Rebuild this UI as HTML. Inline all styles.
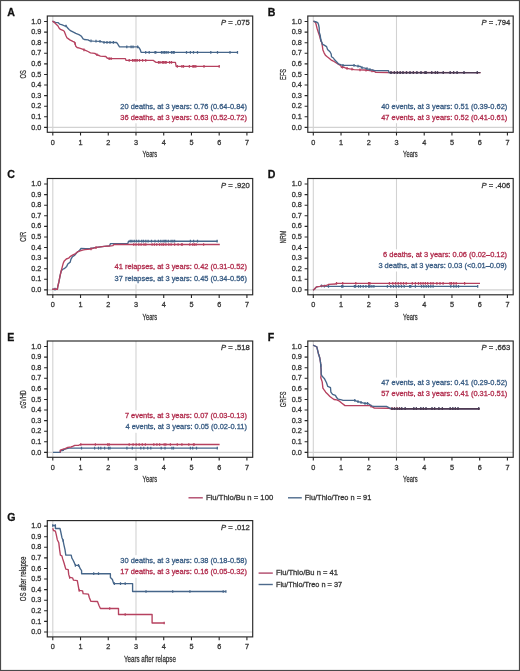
<!DOCTYPE html><html><head><meta charset="utf-8"><style>html,body{margin:0;padding:0;background:#fff;}svg{display:block;filter:blur(0.3px);} text{stroke-width:0.28px;}</style></head><body>
<svg width="520" height="671" viewBox="0 0 520 671" font-family='"Liberation Sans", sans-serif'>
<rect x="0" y="0" width="520" height="671" fill="#fff"/>
<rect x="0.5" y="0.5" width="519" height="670" fill="none" stroke="#4a4a4a" stroke-width="1.2"/>
<g stroke="#d2d2d2" stroke-width="1.1" fill="none">
<line x1="52.8" y1="16" x2="52.8" y2="132.3"/>
<line x1="135.99" y1="16" x2="135.99" y2="132.3"/>
<line x1="47.3" y1="127.4" x2="252.7" y2="127.4"/>
</g>
<rect x="47.3" y="16" width="205.4" height="116.3" fill="none" stroke="#262626" stroke-width="1.15"/>
<path d="M44.1 127.4H47.3M44.1 116.81H47.3M44.1 106.22H47.3M44.1 95.63H47.3M44.1 85.04H47.3M44.1 74.45H47.3M44.1 63.86H47.3M44.1 53.27H47.3M44.1 42.68H47.3M44.1 32.09H47.3M44.1 21.5H47.3M52.8 132.3V135.6M80.53 132.3V135.6M108.26 132.3V135.6M135.99 132.3V135.6M163.72 132.3V135.6M191.45 132.3V135.6M219.18 132.3V135.6M246.91 132.3V135.6" stroke="#262626" stroke-width="1.1" fill="none"/>
<text x="41.3" y="129.5" font-size="7.3" text-anchor="end" fill="#333333" stroke="#333333"  style="">0.0</text>
<text x="41.3" y="118.91" font-size="7.3" text-anchor="end" fill="#333333" stroke="#333333"  style="">0.1</text>
<text x="41.3" y="108.32" font-size="7.3" text-anchor="end" fill="#333333" stroke="#333333"  style="">0.2</text>
<text x="41.3" y="97.73" font-size="7.3" text-anchor="end" fill="#333333" stroke="#333333"  style="">0.3</text>
<text x="41.3" y="87.14" font-size="7.3" text-anchor="end" fill="#333333" stroke="#333333"  style="">0.4</text>
<text x="41.3" y="76.55" font-size="7.3" text-anchor="end" fill="#333333" stroke="#333333"  style="">0.5</text>
<text x="41.3" y="65.96" font-size="7.3" text-anchor="end" fill="#333333" stroke="#333333"  style="">0.6</text>
<text x="41.3" y="55.37" font-size="7.3" text-anchor="end" fill="#333333" stroke="#333333"  style="">0.7</text>
<text x="41.3" y="44.78" font-size="7.3" text-anchor="end" fill="#333333" stroke="#333333"  style="">0.8</text>
<text x="41.3" y="34.19" font-size="7.3" text-anchor="end" fill="#333333" stroke="#333333"  style="">0.9</text>
<text x="41.3" y="23.6" font-size="7.3" text-anchor="end" fill="#333333" stroke="#333333"  style="">1.0</text>
<text x="52.8" y="144.8" font-size="7.3" text-anchor="middle" fill="#333333" stroke="#333333"  style="">0</text>
<text x="80.53" y="144.8" font-size="7.3" text-anchor="middle" fill="#333333" stroke="#333333"  style="">1</text>
<text x="108.26" y="144.8" font-size="7.3" text-anchor="middle" fill="#333333" stroke="#333333"  style="">2</text>
<text x="135.99" y="144.8" font-size="7.3" text-anchor="middle" fill="#333333" stroke="#333333"  style="">3</text>
<text x="163.72" y="144.8" font-size="7.3" text-anchor="middle" fill="#333333" stroke="#333333"  style="">4</text>
<text x="191.45" y="144.8" font-size="7.3" text-anchor="middle" fill="#333333" stroke="#333333"  style="">5</text>
<text x="219.18" y="144.8" font-size="7.3" text-anchor="middle" fill="#333333" stroke="#333333"  style="">6</text>
<text x="246.91" y="144.8" font-size="7.3" text-anchor="middle" fill="#333333" stroke="#333333"  style="">7</text>
<text x="149.9" y="157.4" font-size="9.5" text-anchor="middle" fill="#333333" stroke="#333333" textLength="14.6" lengthAdjust="spacingAndGlyphs"  style="">Years</text>
<text transform="translate(25.9 74.4) rotate(-90)" x="0" y="0" font-size="9.5" text-anchor="middle" fill="#333333" stroke="#333333" textLength="8.3" lengthAdjust="spacingAndGlyphs">OS</text>
<text x="7.2" y="15.9" font-size="10.6" font-weight="bold" fill="#111" stroke="#111">A</text>
<text x="249.8" y="25.1" font-size="7.7" text-anchor="end" fill="#333333" stroke="#333333"><tspan font-style="italic">P</tspan> = .075</text>
<path d="M52.50 21.10L55.50 22.30L58.00 22.60L59.80 24.20L62.30 24.80L64.80 26.00L66.30 26.00L67.20 27.50L69.10 29.40L70.90 30.90L73.40 32.20L75.80 33.40L78.90 34.60L80.80 35.80L81.80 36.80L83.10 38.90L84.30 39.50L88.00 39.80L89.80 40.80L93.50 41.10L100.30 41.40L104.00 42.30L116.50 42.50L117.60 43.70L118.40 45.20L119.50 46.80L138.00 46.80L139.20 47.90L140.30 49.80L141.10 52.40L237.80 52.40" fill="none" stroke="#46668a" stroke-width="1.35" stroke-linejoin="round"/>
<path d="M66.00 24.65V27.35M91.00 39.55V42.25M96.00 39.86V42.56M100.00 40.04V42.74M104.00 40.95V43.65M107.00 41.00V43.70M110.00 41.05V43.75M113.40 41.10V43.80M126.80 45.45V48.15M131.10 45.45V48.15M133.00 45.45V48.15M137.60 45.45V48.15M145.70 51.05V53.75M149.20 51.05V53.75M155.00 51.05V53.75M155.80 51.05V53.75M161.50 51.05V53.75M163.10 51.05V53.75M164.60 51.05V53.75M166.20 51.05V53.75M168.10 51.05V53.75M171.50 51.05V53.75M173.10 51.05V53.75M174.20 51.05V53.75M186.50 51.05V53.75M190.40 51.05V53.75M193.50 51.05V53.75M197.50 51.05V53.75M210.80 51.05V53.75M217.50 51.05V53.75M230.00 51.05V53.75M237.50 51.05V53.75" fill="none" stroke="#46668a" stroke-width="1.25"/>
<path d="M52.50 21.10L54.90 22.90L56.20 24.20L58.00 26.00L59.20 28.20L60.50 29.40L62.90 30.30L64.20 31.20L65.10 33.40L66.00 35.80L66.90 37.70L68.50 38.90L70.30 40.20L72.80 41.40L74.30 42.00L75.20 43.80L75.80 46.30L77.10 47.50L79.50 48.20L82.50 49.10L83.70 49.70L85.50 50.30L88.00 51.50L90.50 52.80L94.80 53.40L96.60 54.60L99.10 55.50L100.30 56.20L105.80 56.50L107.10 58.00L108.90 58.60L125.30 58.60L126.10 60.40L153.50 60.40L154.60 61.40L155.80 62.30L175.40 62.30L176.20 66.30L219.50 66.30" fill="none" stroke="#b6415f" stroke-width="1.35" stroke-linejoin="round"/>
<path d="M75.00 42.05V44.75M84.00 48.45V51.15M97.00 53.39V56.09M109.20 57.25V59.95M111.10 57.25V59.95M129.20 59.05V61.75M132.60 59.05V61.75M134.20 59.05V61.75M135.70 59.05V61.75M137.20 59.05V61.75M139.50 59.05V61.75M142.60 59.05V61.75M145.70 59.05V61.75M158.50 60.95V63.65M160.00 60.95V63.65M162.30 60.95V63.65M163.50 60.95V63.65M165.00 60.95V63.65M166.20 60.95V63.65M169.60 60.95V63.65M171.50 60.95V63.65M177.30 64.95V67.65M181.90 64.95V67.65M183.50 64.95V67.65M189.40 64.95V67.65M192.90 64.95V67.65M194.20 64.95V67.65M195.80 64.95V67.65M204.00 64.95V67.65M219.20 64.95V67.65" fill="none" stroke="#b6415f" stroke-width="1.25"/>
<rect x="114.9" y="101.2" width="131" height="22.1" fill="#fff"/>
<text x="246.9" y="108.6" font-size="7.45" text-anchor="end" fill="#365a82" stroke="#365a82"  style="">20 deaths, at 3 years: 0.76 (0.64-0.84)</text>
<text x="246.9" y="119.7" font-size="7.45" text-anchor="end" fill="#b02a4b" stroke="#b02a4b"  style="">36 deaths, at 3 years: 0.63 (0.52-0.72)</text>
<g stroke="#d2d2d2" stroke-width="1.1" fill="none">
<line x1="313.3" y1="16" x2="313.3" y2="132.3"/>
<line x1="396.49" y1="16" x2="396.49" y2="132.3"/>
<line x1="307.8" y1="127.4" x2="513.2" y2="127.4"/>
</g>
<rect x="307.8" y="16" width="205.4" height="116.3" fill="none" stroke="#262626" stroke-width="1.15"/>
<path d="M304.6 127.4H307.8M304.6 116.81H307.8M304.6 106.22H307.8M304.6 95.63H307.8M304.6 85.04H307.8M304.6 74.45H307.8M304.6 63.86H307.8M304.6 53.27H307.8M304.6 42.68H307.8M304.6 32.09H307.8M304.6 21.5H307.8M313.3 132.3V135.6M341.03 132.3V135.6M368.76 132.3V135.6M396.49 132.3V135.6M424.22 132.3V135.6M451.95 132.3V135.6M479.68 132.3V135.6M507.41 132.3V135.6" stroke="#262626" stroke-width="1.1" fill="none"/>
<text x="301.8" y="129.5" font-size="7.3" text-anchor="end" fill="#333333" stroke="#333333"  style="">0.0</text>
<text x="301.8" y="118.91" font-size="7.3" text-anchor="end" fill="#333333" stroke="#333333"  style="">0.1</text>
<text x="301.8" y="108.32" font-size="7.3" text-anchor="end" fill="#333333" stroke="#333333"  style="">0.2</text>
<text x="301.8" y="97.73" font-size="7.3" text-anchor="end" fill="#333333" stroke="#333333"  style="">0.3</text>
<text x="301.8" y="87.14" font-size="7.3" text-anchor="end" fill="#333333" stroke="#333333"  style="">0.4</text>
<text x="301.8" y="76.55" font-size="7.3" text-anchor="end" fill="#333333" stroke="#333333"  style="">0.5</text>
<text x="301.8" y="65.96" font-size="7.3" text-anchor="end" fill="#333333" stroke="#333333"  style="">0.6</text>
<text x="301.8" y="55.37" font-size="7.3" text-anchor="end" fill="#333333" stroke="#333333"  style="">0.7</text>
<text x="301.8" y="44.78" font-size="7.3" text-anchor="end" fill="#333333" stroke="#333333"  style="">0.8</text>
<text x="301.8" y="34.19" font-size="7.3" text-anchor="end" fill="#333333" stroke="#333333"  style="">0.9</text>
<text x="301.8" y="23.6" font-size="7.3" text-anchor="end" fill="#333333" stroke="#333333"  style="">1.0</text>
<text x="313.3" y="144.8" font-size="7.3" text-anchor="middle" fill="#333333" stroke="#333333"  style="">0</text>
<text x="341.03" y="144.8" font-size="7.3" text-anchor="middle" fill="#333333" stroke="#333333"  style="">1</text>
<text x="368.76" y="144.8" font-size="7.3" text-anchor="middle" fill="#333333" stroke="#333333"  style="">2</text>
<text x="396.49" y="144.8" font-size="7.3" text-anchor="middle" fill="#333333" stroke="#333333"  style="">3</text>
<text x="424.22" y="144.8" font-size="7.3" text-anchor="middle" fill="#333333" stroke="#333333"  style="">4</text>
<text x="451.95" y="144.8" font-size="7.3" text-anchor="middle" fill="#333333" stroke="#333333"  style="">5</text>
<text x="479.68" y="144.8" font-size="7.3" text-anchor="middle" fill="#333333" stroke="#333333"  style="">6</text>
<text x="507.41" y="144.8" font-size="7.3" text-anchor="middle" fill="#333333" stroke="#333333"  style="">7</text>
<text x="410.4" y="157.4" font-size="9.5" text-anchor="middle" fill="#333333" stroke="#333333" textLength="14.6" lengthAdjust="spacingAndGlyphs"  style="">Years</text>
<text transform="translate(286.4 74.4) rotate(-90)" x="0" y="0" font-size="9.5" text-anchor="middle" fill="#333333" stroke="#333333" textLength="11" lengthAdjust="spacingAndGlyphs">EFS</text>
<text x="267.7" y="15.9" font-size="10.6" font-weight="bold" fill="#111" stroke="#111">B</text>
<text x="510.3" y="25.1" font-size="7.7" text-anchor="end" fill="#333333" stroke="#333333"><tspan font-style="italic">P</tspan> = .794</text>
<path d="M313.40 21.10L315.50 22.30L316.20 24.80L317.10 28.50L318.30 32.20L319.50 35.80L320.50 39.50L321.70 42.60L322.30 45.70L322.90 50.00L324.20 53.10L325.40 55.20L327.20 56.80L329.10 58.30L330.90 59.80L332.80 60.80L335.20 62.30L338.30 64.20L340.80 65.70L341.40 67.20L343.80 67.20L345.70 68.20L349.60 68.80L354.20 69.60L364.20 70.00L368.10 70.40L371.20 70.80L374.60 71.50L375.80 72.40L388.00 72.50L480.50 72.60" fill="none" stroke="#b6415f" stroke-width="1.35" stroke-linejoin="round"/>
<path d="M342.50 65.85V68.55M347.00 67.05V69.75M352.00 67.87V70.57M360.00 68.48V71.18M366.00 68.83V71.53M372.00 69.61V72.31" fill="none" stroke="#b6415f" stroke-width="1.25"/>
<path d="M313.40 21.10L316.20 22.00L317.70 22.60L318.60 24.80L319.20 27.80L319.20 32.20L320.20 35.20L320.80 40.20L322.00 42.60L322.30 44.20L324.20 45.10L326.60 46.60L327.50 49.40L330.00 51.80L331.20 54.00L331.50 56.80L333.40 58.00L334.60 59.80L336.50 61.70L338.30 63.80L341.40 64.80L343.20 65.30L354.20 65.30L356.50 65.80L360.40 66.50L361.90 67.70L365.00 68.10L367.30 68.80L370.40 69.60L372.70 70.00L374.60 70.60L388.50 70.60L389.00 72.60L478.00 72.60" fill="none" stroke="#46668a" stroke-width="1.35" stroke-linejoin="round"/>
<path d="M320.80 38.85V41.55M343.00 63.89V66.59M354.00 63.95V66.65M358.00 64.72V67.42M362.00 66.36V69.06M367.00 67.36V70.06M370.00 68.15V70.85M391.00 71.25V73.95M394.40 71.25V73.95M397.30 71.25V73.95M400.20 71.25V73.95M403.00 71.25V73.95M406.50 71.25V73.95M410.00 71.25V73.95M413.40 71.25V73.95M416.90 71.25V73.95M421.00 71.25V73.95M425.00 71.25V73.95M426.10 71.25V73.95M431.70 71.25V73.95M435.40 71.25V73.95M437.50 71.25V73.95M443.30 71.25V73.95M450.20 71.25V73.95M453.60 71.25V73.95M457.10 71.25V73.95M464.00 71.25V73.95M477.30 71.25V73.95" fill="none" stroke="#46668a" stroke-width="1.25"/>
<path d="M389.20 72.60L480.50 72.60" fill="none" stroke="#4d3a52" stroke-width="1.35" stroke-linejoin="round"/>
<path d="M391.00 71.25V73.95M394.40 71.25V73.95M397.30 71.25V73.95M400.20 71.25V73.95M403.00 71.25V73.95M406.50 71.25V73.95M410.00 71.25V73.95M413.40 71.25V73.95M416.90 71.25V73.95M421.00 71.25V73.95M425.00 71.25V73.95M426.10 71.25V73.95M431.70 71.25V73.95M435.40 71.25V73.95M437.50 71.25V73.95M443.30 71.25V73.95M450.20 71.25V73.95M453.60 71.25V73.95M457.10 71.25V73.95M464.00 71.25V73.95M477.30 71.25V73.95" fill="none" stroke="#4d3a52" stroke-width="1.25"/>
<rect x="375.3" y="101.2" width="131" height="22" fill="#fff"/>
<text x="507.3" y="108.6" font-size="7.45" text-anchor="end" fill="#365a82" stroke="#365a82"  style="">40 events, at 3 years: 0.51 (0.39-0.62)</text>
<text x="507.3" y="119.6" font-size="7.45" text-anchor="end" fill="#b02a4b" stroke="#b02a4b"  style="">47 events, at 3 years: 0.52 (0.41-0.61)</text>
<g stroke="#d2d2d2" stroke-width="1.1" fill="none">
<line x1="52.8" y1="178.5" x2="52.8" y2="294.8"/>
<line x1="135.99" y1="178.5" x2="135.99" y2="294.8"/>
<line x1="47.3" y1="289.9" x2="252.7" y2="289.9"/>
</g>
<rect x="47.3" y="178.5" width="205.4" height="116.3" fill="none" stroke="#262626" stroke-width="1.15"/>
<path d="M44.1 289.9H47.3M44.1 279.31H47.3M44.1 268.72H47.3M44.1 258.13H47.3M44.1 247.54H47.3M44.1 236.95H47.3M44.1 226.36H47.3M44.1 215.77H47.3M44.1 205.18H47.3M44.1 194.59H47.3M44.1 184H47.3M52.8 294.8V298.1M80.53 294.8V298.1M108.26 294.8V298.1M135.99 294.8V298.1M163.72 294.8V298.1M191.45 294.8V298.1M219.18 294.8V298.1M246.91 294.8V298.1" stroke="#262626" stroke-width="1.1" fill="none"/>
<text x="41.3" y="292" font-size="7.3" text-anchor="end" fill="#333333" stroke="#333333"  style="">0.0</text>
<text x="41.3" y="281.41" font-size="7.3" text-anchor="end" fill="#333333" stroke="#333333"  style="">0.1</text>
<text x="41.3" y="270.82" font-size="7.3" text-anchor="end" fill="#333333" stroke="#333333"  style="">0.2</text>
<text x="41.3" y="260.23" font-size="7.3" text-anchor="end" fill="#333333" stroke="#333333"  style="">0.3</text>
<text x="41.3" y="249.64" font-size="7.3" text-anchor="end" fill="#333333" stroke="#333333"  style="">0.4</text>
<text x="41.3" y="239.05" font-size="7.3" text-anchor="end" fill="#333333" stroke="#333333"  style="">0.5</text>
<text x="41.3" y="228.46" font-size="7.3" text-anchor="end" fill="#333333" stroke="#333333"  style="">0.6</text>
<text x="41.3" y="217.87" font-size="7.3" text-anchor="end" fill="#333333" stroke="#333333"  style="">0.7</text>
<text x="41.3" y="207.28" font-size="7.3" text-anchor="end" fill="#333333" stroke="#333333"  style="">0.8</text>
<text x="41.3" y="196.69" font-size="7.3" text-anchor="end" fill="#333333" stroke="#333333"  style="">0.9</text>
<text x="41.3" y="186.1" font-size="7.3" text-anchor="end" fill="#333333" stroke="#333333"  style="">1.0</text>
<text x="52.8" y="307.3" font-size="7.3" text-anchor="middle" fill="#333333" stroke="#333333"  style="">0</text>
<text x="80.53" y="307.3" font-size="7.3" text-anchor="middle" fill="#333333" stroke="#333333"  style="">1</text>
<text x="108.26" y="307.3" font-size="7.3" text-anchor="middle" fill="#333333" stroke="#333333"  style="">2</text>
<text x="135.99" y="307.3" font-size="7.3" text-anchor="middle" fill="#333333" stroke="#333333"  style="">3</text>
<text x="163.72" y="307.3" font-size="7.3" text-anchor="middle" fill="#333333" stroke="#333333"  style="">4</text>
<text x="191.45" y="307.3" font-size="7.3" text-anchor="middle" fill="#333333" stroke="#333333"  style="">5</text>
<text x="219.18" y="307.3" font-size="7.3" text-anchor="middle" fill="#333333" stroke="#333333"  style="">6</text>
<text x="246.91" y="307.3" font-size="7.3" text-anchor="middle" fill="#333333" stroke="#333333"  style="">7</text>
<text x="149.9" y="319.9" font-size="9.5" text-anchor="middle" fill="#333333" stroke="#333333" textLength="14.6" lengthAdjust="spacingAndGlyphs"  style="">Years</text>
<text transform="translate(25.9 236.9) rotate(-90)" x="0" y="0" font-size="9.5" text-anchor="middle" fill="#333333" stroke="#333333" textLength="9.9" lengthAdjust="spacingAndGlyphs">CIR</text>
<text x="7.2" y="178.4" font-size="10.6" font-weight="bold" fill="#111" stroke="#111">C</text>
<text x="249.8" y="187.6" font-size="7.7" text-anchor="end" fill="#333333" stroke="#333333"><tspan font-style="italic">P</tspan> = .920</text>
<path d="M52.30 289.20L57.40 289.20L57.80 286.50L58.90 281.90L60.10 275.70L61.20 271.00L62.40 269.50L64.70 268.30L66.70 266.40L67.80 264.00L70.20 262.10L70.90 259.40L72.50 256.70L74.80 255.10L76.70 252.80L79.10 250.90L81.00 248.50L85.70 248.70L90.30 248.40L96.50 247.40L104.20 246.40L109.50 245.80L110.50 243.60L127.80 243.60L128.50 241.20L217.50 241.20" fill="none" stroke="#46668a" stroke-width="1.35" stroke-linejoin="round"/>
<path d="M55.00 287.85V290.55M130.20 239.85V242.55M131.90 239.85V242.55M134.20 239.85V242.55M136.50 239.85V242.55M138.80 239.85V242.55M141.70 239.85V242.55M143.50 239.85V242.55M145.80 239.85V242.55M148.10 239.85V242.55M151.50 239.85V242.55M155.00 239.85V242.55M158.40 239.85V242.55M160.80 239.85V242.55M163.10 239.85V242.55M164.80 239.85V242.55M166.00 239.85V242.55M168.30 239.85V242.55M171.10 239.85V242.55M172.90 239.85V242.55M174.60 239.85V242.55M190.40 239.85V242.55M193.60 239.85V242.55M197.50 239.85V242.55M217.10 239.85V242.55" fill="none" stroke="#46668a" stroke-width="1.25"/>
<path d="M52.30 289.20L57.40 289.20L57.80 286.50L58.90 281.90L60.10 275.70L61.20 271.00L62.40 266.40L63.20 263.30L64.30 260.90L66.30 259.00L68.60 258.20L70.50 256.30L72.50 255.10L75.60 253.60L77.90 251.60L80.20 250.90L82.60 250.10L84.90 249.70L90.30 249.10L96.50 247.40L104.20 246.40L109.50 246.00L112.90 245.70L113.80 244.50L219.80 244.50" fill="none" stroke="#b6415f" stroke-width="1.35" stroke-linejoin="round"/>
<path d="M91.00 247.56V250.26M96.00 246.19V248.89M133.70 243.15V245.85M136.00 243.15V245.85M138.80 243.15V245.85M141.10 243.15V245.85M144.00 243.15V245.85M145.80 243.15V245.85M152.10 243.15V245.85M154.40 243.15V245.85M156.70 243.15V245.85M159.60 243.15V245.85M161.90 243.15V245.85M163.60 243.15V245.85M165.90 243.15V245.85M168.80 243.15V245.85M171.10 243.15V245.85M174.60 243.15V245.85M178.10 243.15V245.85M181.50 243.15V245.85M182.30 243.15V245.85M189.80 243.15V245.85M192.70 243.15V245.85M194.40 243.15V245.85M196.10 243.15V245.85M203.60 243.15V245.85" fill="none" stroke="#b6415f" stroke-width="1.25"/>
<rect x="114.9" y="261.6" width="131" height="22.8" fill="#fff"/>
<text x="246.9" y="269" font-size="7.45" text-anchor="end" fill="#b02a4b" stroke="#b02a4b"  style="">41 relapses, at 3 years: 0.42 (0.31-0.52)</text>
<text x="246.9" y="280.8" font-size="7.45" text-anchor="end" fill="#365a82" stroke="#365a82"  style="">37 relapses, at 3 years: 0.45 (0.34-0.56)</text>
<g stroke="#d2d2d2" stroke-width="1.1" fill="none">
<line x1="313.3" y1="178.5" x2="313.3" y2="294.8"/>
<line x1="396.49" y1="178.5" x2="396.49" y2="294.8"/>
<line x1="307.8" y1="289.9" x2="513.2" y2="289.9"/>
</g>
<rect x="307.8" y="178.5" width="205.4" height="116.3" fill="none" stroke="#262626" stroke-width="1.15"/>
<path d="M304.6 289.9H307.8M304.6 279.31H307.8M304.6 268.72H307.8M304.6 258.13H307.8M304.6 247.54H307.8M304.6 236.95H307.8M304.6 226.36H307.8M304.6 215.77H307.8M304.6 205.18H307.8M304.6 194.59H307.8M304.6 184H307.8M313.3 294.8V298.1M341.03 294.8V298.1M368.76 294.8V298.1M396.49 294.8V298.1M424.22 294.8V298.1M451.95 294.8V298.1M479.68 294.8V298.1M507.41 294.8V298.1" stroke="#262626" stroke-width="1.1" fill="none"/>
<text x="301.8" y="292" font-size="7.3" text-anchor="end" fill="#333333" stroke="#333333"  style="">0.0</text>
<text x="301.8" y="281.41" font-size="7.3" text-anchor="end" fill="#333333" stroke="#333333"  style="">0.1</text>
<text x="301.8" y="270.82" font-size="7.3" text-anchor="end" fill="#333333" stroke="#333333"  style="">0.2</text>
<text x="301.8" y="260.23" font-size="7.3" text-anchor="end" fill="#333333" stroke="#333333"  style="">0.3</text>
<text x="301.8" y="249.64" font-size="7.3" text-anchor="end" fill="#333333" stroke="#333333"  style="">0.4</text>
<text x="301.8" y="239.05" font-size="7.3" text-anchor="end" fill="#333333" stroke="#333333"  style="">0.5</text>
<text x="301.8" y="228.46" font-size="7.3" text-anchor="end" fill="#333333" stroke="#333333"  style="">0.6</text>
<text x="301.8" y="217.87" font-size="7.3" text-anchor="end" fill="#333333" stroke="#333333"  style="">0.7</text>
<text x="301.8" y="207.28" font-size="7.3" text-anchor="end" fill="#333333" stroke="#333333"  style="">0.8</text>
<text x="301.8" y="196.69" font-size="7.3" text-anchor="end" fill="#333333" stroke="#333333"  style="">0.9</text>
<text x="301.8" y="186.1" font-size="7.3" text-anchor="end" fill="#333333" stroke="#333333"  style="">1.0</text>
<text x="313.3" y="307.3" font-size="7.3" text-anchor="middle" fill="#333333" stroke="#333333"  style="">0</text>
<text x="341.03" y="307.3" font-size="7.3" text-anchor="middle" fill="#333333" stroke="#333333"  style="">1</text>
<text x="368.76" y="307.3" font-size="7.3" text-anchor="middle" fill="#333333" stroke="#333333"  style="">2</text>
<text x="396.49" y="307.3" font-size="7.3" text-anchor="middle" fill="#333333" stroke="#333333"  style="">3</text>
<text x="424.22" y="307.3" font-size="7.3" text-anchor="middle" fill="#333333" stroke="#333333"  style="">4</text>
<text x="451.95" y="307.3" font-size="7.3" text-anchor="middle" fill="#333333" stroke="#333333"  style="">5</text>
<text x="479.68" y="307.3" font-size="7.3" text-anchor="middle" fill="#333333" stroke="#333333"  style="">6</text>
<text x="507.41" y="307.3" font-size="7.3" text-anchor="middle" fill="#333333" stroke="#333333"  style="">7</text>
<text x="410.4" y="319.9" font-size="9.5" text-anchor="middle" fill="#333333" stroke="#333333" textLength="14.6" lengthAdjust="spacingAndGlyphs"  style="">Years</text>
<text transform="translate(286.4 236.9) rotate(-90)" x="0" y="0" font-size="9.5" text-anchor="middle" fill="#333333" stroke="#333333" textLength="13" lengthAdjust="spacingAndGlyphs">NRM</text>
<text x="267.7" y="178.4" font-size="10.6" font-weight="bold" fill="#111" stroke="#111">D</text>
<text x="510.3" y="187.6" font-size="7.7" text-anchor="end" fill="#333333" stroke="#333333"><tspan font-style="italic">P</tspan> = .406</text>
<path d="M313.10 290.20L314.60 289.00L316.20 287.10L317.70 286.70L320.00 286.30L321.50 285.90L323.80 286.20L328.50 286.30L477.70 286.30" fill="none" stroke="#46668a" stroke-width="1.35" stroke-linejoin="round"/>
<path d="M321.50 284.55V287.25M324.40 284.86V287.56M328.50 284.95V287.65M341.70 284.95V287.65M342.90 284.95V287.65M355.60 284.95V287.65M354.40 284.95V287.65M358.50 284.95V287.65M360.50 284.95V287.65M363.20 284.95V287.65M365.90 284.95V287.65M368.60 284.95V287.65M369.90 284.95V287.65M371.90 284.95V287.65M373.90 284.95V287.65M387.40 284.95V287.65M390.80 284.95V287.65M393.50 284.95V287.65M396.10 284.95V287.65M398.80 284.95V287.65M401.50 284.95V287.65M404.20 284.95V287.65M409.60 284.95V287.65M410.80 284.95V287.65M415.40 284.95V287.65M421.50 284.95V287.65M423.80 284.95V287.65M426.20 284.95V287.65M428.50 284.95V287.65M430.80 284.95V287.65M433.10 284.95V287.65M450.80 284.95V287.65M453.80 284.95V287.65M456.20 284.95V287.65M458.50 284.95V287.65M477.70 284.95V287.65" fill="none" stroke="#46668a" stroke-width="1.25"/>
<path d="M313.10 290.20L314.60 289.00L316.20 287.10L317.70 286.70L320.00 286.30L321.50 285.90L323.80 285.90L326.20 285.50L327.70 284.80L328.50 284.40L335.40 284.00L336.50 283.30L480.00 283.30" fill="none" stroke="#b6415f" stroke-width="1.35" stroke-linejoin="round"/>
<path d="M336.50 281.95V284.65M342.70 281.95V284.65M355.80 281.95V284.65M368.60 281.95V284.65M369.90 281.95V284.65M389.40 281.95V284.65M392.80 281.95V284.65M395.50 281.95V284.65M398.20 281.95V284.65M400.90 281.95V284.65M403.50 281.95V284.65M406.20 281.95V284.65M412.30 281.95V284.65M415.40 281.95V284.65M418.50 281.95V284.65M420.80 281.95V284.65M423.10 281.95V284.65M425.40 281.95V284.65M427.70 281.95V284.65M430.80 281.95V284.65M433.10 281.95V284.65M436.90 281.95V284.65M440.00 281.95V284.65M443.10 281.95V284.65M450.00 281.95V284.65M451.50 281.95V284.65M453.80 281.95V284.65M456.20 281.95V284.65M464.60 281.95V284.65" fill="none" stroke="#b6415f" stroke-width="1.25"/>
<rect x="374.8" y="249.3" width="131" height="22.2" fill="#fff"/>
<text x="507.1" y="256.7" font-size="7.45" text-anchor="end" fill="#b02a4b" stroke="#b02a4b"  style="">6 deaths, at 3 years: 0.06 (0.02–0.12)</text>
<text x="506.8" y="267.9" font-size="7.45" text-anchor="end" fill="#365a82" stroke="#365a82"  style="">3 deaths, at 3 years: 0.03 (&lt;0.01–0.09)</text>
<g stroke="#d2d2d2" stroke-width="1.1" fill="none">
<line x1="52.8" y1="341" x2="52.8" y2="457.3"/>
<line x1="135.99" y1="341" x2="135.99" y2="457.3"/>
<line x1="47.3" y1="452.4" x2="252.7" y2="452.4"/>
</g>
<rect x="47.3" y="341" width="205.4" height="116.3" fill="none" stroke="#262626" stroke-width="1.15"/>
<path d="M44.1 452.4H47.3M44.1 441.81H47.3M44.1 431.22H47.3M44.1 420.63H47.3M44.1 410.04H47.3M44.1 399.45H47.3M44.1 388.86H47.3M44.1 378.27H47.3M44.1 367.68H47.3M44.1 357.09H47.3M44.1 346.5H47.3M52.8 457.3V460.6M80.53 457.3V460.6M108.26 457.3V460.6M135.99 457.3V460.6M163.72 457.3V460.6M191.45 457.3V460.6M219.18 457.3V460.6M246.91 457.3V460.6" stroke="#262626" stroke-width="1.1" fill="none"/>
<text x="41.3" y="454.5" font-size="7.3" text-anchor="end" fill="#333333" stroke="#333333"  style="">0.0</text>
<text x="41.3" y="443.91" font-size="7.3" text-anchor="end" fill="#333333" stroke="#333333"  style="">0.1</text>
<text x="41.3" y="433.32" font-size="7.3" text-anchor="end" fill="#333333" stroke="#333333"  style="">0.2</text>
<text x="41.3" y="422.73" font-size="7.3" text-anchor="end" fill="#333333" stroke="#333333"  style="">0.3</text>
<text x="41.3" y="412.14" font-size="7.3" text-anchor="end" fill="#333333" stroke="#333333"  style="">0.4</text>
<text x="41.3" y="401.55" font-size="7.3" text-anchor="end" fill="#333333" stroke="#333333"  style="">0.5</text>
<text x="41.3" y="390.96" font-size="7.3" text-anchor="end" fill="#333333" stroke="#333333"  style="">0.6</text>
<text x="41.3" y="380.37" font-size="7.3" text-anchor="end" fill="#333333" stroke="#333333"  style="">0.7</text>
<text x="41.3" y="369.78" font-size="7.3" text-anchor="end" fill="#333333" stroke="#333333"  style="">0.8</text>
<text x="41.3" y="359.19" font-size="7.3" text-anchor="end" fill="#333333" stroke="#333333"  style="">0.9</text>
<text x="41.3" y="348.6" font-size="7.3" text-anchor="end" fill="#333333" stroke="#333333"  style="">1.0</text>
<text x="52.8" y="469.8" font-size="7.3" text-anchor="middle" fill="#333333" stroke="#333333"  style="">0</text>
<text x="80.53" y="469.8" font-size="7.3" text-anchor="middle" fill="#333333" stroke="#333333"  style="">1</text>
<text x="108.26" y="469.8" font-size="7.3" text-anchor="middle" fill="#333333" stroke="#333333"  style="">2</text>
<text x="135.99" y="469.8" font-size="7.3" text-anchor="middle" fill="#333333" stroke="#333333"  style="">3</text>
<text x="163.72" y="469.8" font-size="7.3" text-anchor="middle" fill="#333333" stroke="#333333"  style="">4</text>
<text x="191.45" y="469.8" font-size="7.3" text-anchor="middle" fill="#333333" stroke="#333333"  style="">5</text>
<text x="219.18" y="469.8" font-size="7.3" text-anchor="middle" fill="#333333" stroke="#333333"  style="">6</text>
<text x="246.91" y="469.8" font-size="7.3" text-anchor="middle" fill="#333333" stroke="#333333"  style="">7</text>
<text x="149.9" y="482.4" font-size="9.5" text-anchor="middle" fill="#333333" stroke="#333333" textLength="14.6" lengthAdjust="spacingAndGlyphs"  style="">Years</text>
<text transform="translate(25.9 399.4) rotate(-90)" x="0" y="0" font-size="9.5" text-anchor="middle" fill="#333333" stroke="#333333" textLength="18.2" lengthAdjust="spacingAndGlyphs">cGVHD</text>
<text x="7.2" y="340.9" font-size="10.6" font-weight="bold" fill="#111" stroke="#111">E</text>
<text x="249.8" y="350.1" font-size="7.7" text-anchor="end" fill="#333333" stroke="#333333"><tspan font-style="italic">P</tspan> = .518</text>
<path d="M52.90 452.30L60.30 452.30L60.30 450.80L63.50 450.30L63.50 449.50L66.80 448.60L68.90 448.10L217.30 448.10" fill="none" stroke="#46668a" stroke-width="1.35" stroke-linejoin="round"/>
<path d="M81.50 446.75V449.45M94.60 446.75V449.45M98.50 446.75V449.45M100.80 446.75V449.45M104.60 446.75V449.45M108.50 446.75V449.45M110.00 446.75V449.45M126.90 446.75V449.45M132.30 446.75V449.45M140.80 446.75V449.45M143.80 446.75V449.45M147.70 446.75V449.45M150.80 446.75V449.45M161.20 446.75V449.45M165.00 446.75V449.45M171.90 446.75V449.45M173.50 446.75V449.45M190.40 446.75V449.45M192.70 446.75V449.45M196.50 446.75V449.45M217.30 446.75V449.45" fill="none" stroke="#46668a" stroke-width="1.25"/>
<path d="M60.30 452.30L60.30 450.20L62.50 449.40L65.20 448.60L67.80 447.30L71.10 447.00L73.20 446.20L74.80 445.40L78.60 445.40L80.20 444.50L219.60 444.50" fill="none" stroke="#b6415f" stroke-width="1.35" stroke-linejoin="round"/>
<path d="M80.80 443.15V445.85M95.40 443.15V445.85M107.70 443.15V445.85M109.20 443.15V445.85M129.20 443.15V445.85M133.10 443.15V445.85M136.20 443.15V445.85M139.20 443.15V445.85M142.30 443.15V445.85M145.40 443.15V445.85M153.80 443.15V445.85M156.90 443.15V445.85M159.60 443.15V445.85M164.20 443.15V445.85M165.80 443.15V445.85M170.40 443.15V445.85M177.30 443.15V445.85M181.90 443.15V445.85M188.80 443.15V445.85M193.50 443.15V445.85M194.20 443.15V445.85" fill="none" stroke="#b6415f" stroke-width="1.25"/>
<rect x="114.9" y="410.3" width="131" height="22.5" fill="#fff"/>
<text x="246.9" y="417.7" font-size="7.45" text-anchor="end" fill="#b02a4b" stroke="#b02a4b"  style="">7 events, at 3 years: 0.07 (0.03-0.13)</text>
<text x="246.9" y="429.2" font-size="7.45" text-anchor="end" fill="#365a82" stroke="#365a82"  style="">4 events, at 3 years: 0.05 (0.02-0.11)</text>
<g stroke="#d2d2d2" stroke-width="1.1" fill="none">
<line x1="313.3" y1="341" x2="313.3" y2="457.3"/>
<line x1="396.49" y1="341" x2="396.49" y2="457.3"/>
<line x1="307.8" y1="452.4" x2="513.2" y2="452.4"/>
</g>
<rect x="307.8" y="341" width="205.4" height="116.3" fill="none" stroke="#262626" stroke-width="1.15"/>
<path d="M304.6 452.4H307.8M304.6 441.81H307.8M304.6 431.22H307.8M304.6 420.63H307.8M304.6 410.04H307.8M304.6 399.45H307.8M304.6 388.86H307.8M304.6 378.27H307.8M304.6 367.68H307.8M304.6 357.09H307.8M304.6 346.5H307.8M313.3 457.3V460.6M341.03 457.3V460.6M368.76 457.3V460.6M396.49 457.3V460.6M424.22 457.3V460.6M451.95 457.3V460.6M479.68 457.3V460.6M507.41 457.3V460.6" stroke="#262626" stroke-width="1.1" fill="none"/>
<text x="301.8" y="454.5" font-size="7.3" text-anchor="end" fill="#333333" stroke="#333333"  style="">0.0</text>
<text x="301.8" y="443.91" font-size="7.3" text-anchor="end" fill="#333333" stroke="#333333"  style="">0.1</text>
<text x="301.8" y="433.32" font-size="7.3" text-anchor="end" fill="#333333" stroke="#333333"  style="">0.2</text>
<text x="301.8" y="422.73" font-size="7.3" text-anchor="end" fill="#333333" stroke="#333333"  style="">0.3</text>
<text x="301.8" y="412.14" font-size="7.3" text-anchor="end" fill="#333333" stroke="#333333"  style="">0.4</text>
<text x="301.8" y="401.55" font-size="7.3" text-anchor="end" fill="#333333" stroke="#333333"  style="">0.5</text>
<text x="301.8" y="390.96" font-size="7.3" text-anchor="end" fill="#333333" stroke="#333333"  style="">0.6</text>
<text x="301.8" y="380.37" font-size="7.3" text-anchor="end" fill="#333333" stroke="#333333"  style="">0.7</text>
<text x="301.8" y="369.78" font-size="7.3" text-anchor="end" fill="#333333" stroke="#333333"  style="">0.8</text>
<text x="301.8" y="359.19" font-size="7.3" text-anchor="end" fill="#333333" stroke="#333333"  style="">0.9</text>
<text x="301.8" y="348.6" font-size="7.3" text-anchor="end" fill="#333333" stroke="#333333"  style="">1.0</text>
<text x="313.3" y="469.8" font-size="7.3" text-anchor="middle" fill="#333333" stroke="#333333"  style="">0</text>
<text x="341.03" y="469.8" font-size="7.3" text-anchor="middle" fill="#333333" stroke="#333333"  style="">1</text>
<text x="368.76" y="469.8" font-size="7.3" text-anchor="middle" fill="#333333" stroke="#333333"  style="">2</text>
<text x="396.49" y="469.8" font-size="7.3" text-anchor="middle" fill="#333333" stroke="#333333"  style="">3</text>
<text x="424.22" y="469.8" font-size="7.3" text-anchor="middle" fill="#333333" stroke="#333333"  style="">4</text>
<text x="451.95" y="469.8" font-size="7.3" text-anchor="middle" fill="#333333" stroke="#333333"  style="">5</text>
<text x="479.68" y="469.8" font-size="7.3" text-anchor="middle" fill="#333333" stroke="#333333"  style="">6</text>
<text x="507.41" y="469.8" font-size="7.3" text-anchor="middle" fill="#333333" stroke="#333333"  style="">7</text>
<text x="410.4" y="482.4" font-size="9.5" text-anchor="middle" fill="#333333" stroke="#333333" textLength="14.6" lengthAdjust="spacingAndGlyphs"  style="">Years</text>
<text transform="translate(286.4 399.4) rotate(-90)" x="0" y="0" font-size="9.5" text-anchor="middle" fill="#333333" stroke="#333333" textLength="15.8" lengthAdjust="spacingAndGlyphs">GRFS</text>
<text x="267.7" y="340.9" font-size="10.6" font-weight="bold" fill="#111" stroke="#111">F</text>
<text x="510.3" y="350.1" font-size="7.7" text-anchor="end" fill="#333333" stroke="#333333"><tspan font-style="italic">P</tspan> = .663</text>
<path d="M313.10 345.10L314.90 346.00L316.80 346.90L317.40 349.40L318.60 354.30L319.80 358.00L320.50 362.30L320.80 365.40L321.10 369.70L321.20 374.20L320.80 377.70L322.20 381.90L322.90 388.10L324.30 390.20L325.70 392.20L327.80 394.30L329.90 396.40L331.60 397.80L334.00 399.50L336.80 399.90L339.50 401.20L341.60 403.00L345.00 405.60L369.80 405.60L371.50 406.40L374.40 408.10L388.80 408.20L390.00 408.70L479.60 408.70" fill="none" stroke="#b6415f" stroke-width="1.35" stroke-linejoin="round"/>
<path d="M371.00 404.81V407.51M392.00 407.35V410.05M394.50 407.35V410.05M397.00 407.35V410.05M399.50 407.35V410.05" fill="none" stroke="#b6415f" stroke-width="1.25"/>
<path d="M313.10 345.10L314.90 346.00L316.80 346.90L317.40 349.40L318.60 354.30L319.80 358.00L320.50 362.30L320.80 365.40L321.10 369.70L321.20 374.20L322.20 376.30L324.30 378.40L326.40 382.50L327.80 386.40L330.50 387.70L330.90 392.20L332.60 394.30L335.40 395.40L336.80 397.80L338.20 399.20L341.60 399.90L343.00 400.30L354.80 400.30L356.50 401.20L360.00 402.10L364.60 403.30L368.10 403.50L371.50 405.80L373.80 406.40L386.50 406.40L388.80 407.60L391.10 408.70L478.70 408.70" fill="none" stroke="#46668a" stroke-width="1.35" stroke-linejoin="round"/>
<path d="M320.80 364.05V366.75M354.80 398.95V401.65M358.00 400.24V402.94M361.00 401.01V403.71M365.00 401.97V404.67M367.50 402.12V404.82M401.70 407.35V410.05M405.20 407.35V410.05M413.80 407.35V410.05M416.40 407.35V410.05M420.80 407.35V410.05M423.40 407.35V410.05M426.00 407.35V410.05M432.00 407.35V410.05M434.60 407.35V410.05M438.90 407.35V410.05M442.40 407.35V410.05M450.20 407.35V410.05M452.80 407.35V410.05M455.40 407.35V410.05M458.00 407.35V410.05M478.70 407.35V410.05" fill="none" stroke="#46668a" stroke-width="1.25"/>
<path d="M391.10 408.70L479.60 408.70" fill="none" stroke="#4d3a52" stroke-width="1.35" stroke-linejoin="round"/>
<path d="M392.00 407.35V410.05M394.50 407.35V410.05M397.00 407.35V410.05M399.50 407.35V410.05M401.70 407.35V410.05M405.20 407.35V410.05M413.80 407.35V410.05M416.40 407.35V410.05M420.80 407.35V410.05M423.40 407.35V410.05M426.00 407.35V410.05M432.00 407.35V410.05M434.60 407.35V410.05M438.90 407.35V410.05M442.40 407.35V410.05M450.20 407.35V410.05M452.80 407.35V410.05M455.40 407.35V410.05M458.00 407.35V410.05M478.70 407.35V410.05" fill="none" stroke="#4d3a52" stroke-width="1.25"/>
<rect x="375.3" y="377.6" width="131" height="22.2" fill="#fff"/>
<text x="507.3" y="385" font-size="7.45" text-anchor="end" fill="#365a82" stroke="#365a82"  style="">47 events, at 3 years: 0.41 (0.29-0.52)</text>
<text x="507.3" y="396.2" font-size="7.45" text-anchor="end" fill="#b02a4b" stroke="#b02a4b"  style="">57 events, at 3 years: 0.41 (0.31-0.51)</text>
<g stroke="#d2d2d2" stroke-width="1.1" fill="none">
<line x1="52.8" y1="520.6" x2="52.8" y2="636.9"/>
<line x1="135.99" y1="520.6" x2="135.99" y2="636.9"/>
<line x1="47.3" y1="632" x2="252.7" y2="632"/>
</g>
<rect x="47.3" y="520.6" width="205.4" height="116.3" fill="none" stroke="#262626" stroke-width="1.15"/>
<path d="M44.1 632H47.3M44.1 621.41H47.3M44.1 610.82H47.3M44.1 600.23H47.3M44.1 589.64H47.3M44.1 579.05H47.3M44.1 568.46H47.3M44.1 557.87H47.3M44.1 547.28H47.3M44.1 536.69H47.3M44.1 526.1H47.3M52.8 636.9V640.2M80.53 636.9V640.2M108.26 636.9V640.2M135.99 636.9V640.2M163.72 636.9V640.2M191.45 636.9V640.2M219.18 636.9V640.2M246.91 636.9V640.2" stroke="#262626" stroke-width="1.1" fill="none"/>
<text x="41.3" y="634.1" font-size="7.3" text-anchor="end" fill="#333333" stroke="#333333"  style="">0.0</text>
<text x="41.3" y="623.51" font-size="7.3" text-anchor="end" fill="#333333" stroke="#333333"  style="">0.1</text>
<text x="41.3" y="612.92" font-size="7.3" text-anchor="end" fill="#333333" stroke="#333333"  style="">0.2</text>
<text x="41.3" y="602.33" font-size="7.3" text-anchor="end" fill="#333333" stroke="#333333"  style="">0.3</text>
<text x="41.3" y="591.74" font-size="7.3" text-anchor="end" fill="#333333" stroke="#333333"  style="">0.4</text>
<text x="41.3" y="581.15" font-size="7.3" text-anchor="end" fill="#333333" stroke="#333333"  style="">0.5</text>
<text x="41.3" y="570.56" font-size="7.3" text-anchor="end" fill="#333333" stroke="#333333"  style="">0.6</text>
<text x="41.3" y="559.97" font-size="7.3" text-anchor="end" fill="#333333" stroke="#333333"  style="">0.7</text>
<text x="41.3" y="549.38" font-size="7.3" text-anchor="end" fill="#333333" stroke="#333333"  style="">0.8</text>
<text x="41.3" y="538.79" font-size="7.3" text-anchor="end" fill="#333333" stroke="#333333"  style="">0.9</text>
<text x="41.3" y="528.2" font-size="7.3" text-anchor="end" fill="#333333" stroke="#333333"  style="">1.0</text>
<text x="52.8" y="649.4" font-size="7.3" text-anchor="middle" fill="#333333" stroke="#333333"  style="">0</text>
<text x="80.53" y="649.4" font-size="7.3" text-anchor="middle" fill="#333333" stroke="#333333"  style="">1</text>
<text x="108.26" y="649.4" font-size="7.3" text-anchor="middle" fill="#333333" stroke="#333333"  style="">2</text>
<text x="135.99" y="649.4" font-size="7.3" text-anchor="middle" fill="#333333" stroke="#333333"  style="">3</text>
<text x="163.72" y="649.4" font-size="7.3" text-anchor="middle" fill="#333333" stroke="#333333"  style="">4</text>
<text x="191.45" y="649.4" font-size="7.3" text-anchor="middle" fill="#333333" stroke="#333333"  style="">5</text>
<text x="219.18" y="649.4" font-size="7.3" text-anchor="middle" fill="#333333" stroke="#333333"  style="">6</text>
<text x="246.91" y="649.4" font-size="7.3" text-anchor="middle" fill="#333333" stroke="#333333"  style="">7</text>
<text x="149.9" y="662" font-size="9.5" text-anchor="middle" fill="#333333" stroke="#333333" textLength="52" lengthAdjust="spacingAndGlyphs"  style="">Years after relapse</text>
<text transform="translate(25.9 579) rotate(-90)" x="0" y="0" font-size="9.5" text-anchor="middle" fill="#333333" stroke="#333333" textLength="44.7" lengthAdjust="spacingAndGlyphs">OS after relapse</text>
<text x="7.2" y="520.5" font-size="10.6" font-weight="bold" fill="#111" stroke="#111">G</text>
<text x="249.8" y="529.7" font-size="7.7" text-anchor="end" fill="#333333" stroke="#333333"><tspan font-style="italic">P</tspan> = .012</text>
<path d="M52.70 525.50L55.40 525.50L55.40 528.50L60.00 528.50L60.80 532.00L61.90 537.40L63.10 540.50L63.80 544.30L65.00 549.70L65.80 555.10L71.20 555.10L71.90 558.20L73.00 560.00L74.40 562.90L75.40 565.30L78.80 565.30L80.20 568.70L81.60 570.60L81.60 573.70L110.40 573.70L110.40 577.50L112.40 579.50L113.70 583.60L132.60 583.60L132.60 591.50L225.90 591.50" fill="none" stroke="#46668a" stroke-width="1.35" stroke-linejoin="round"/>
<path d="M52.70 524.15V526.85M55.40 524.15V526.85M63.10 539.15V541.85M75.40 563.95V566.65M78.50 563.95V566.65M93.70 572.35V575.05M98.50 572.35V575.05M114.40 582.25V584.95M120.50 582.25V584.95M125.20 582.25V584.95M146.00 590.15V592.85M172.70 590.15V592.85M189.90 590.15V592.85M223.20 590.15V592.85M225.90 590.15V592.85" fill="none" stroke="#46668a" stroke-width="1.25"/>
<path d="M52.70 528.20L53.50 530.50L55.40 531.20L56.20 534.30L57.30 539.70L58.80 542.80L59.60 549.70L60.40 555.10L61.90 555.80L62.70 558.90L64.20 563.50L64.80 565.80L65.80 569.10L68.20 569.60L68.70 574.40L69.60 577.30L72.50 577.80L73.50 580.20L77.30 580.70L78.80 588.80L79.20 590.30L82.60 590.80L83.10 593.70L88.40 594.10L89.30 597.50L90.80 601.30L97.50 601.50L98.90 605.20L100.40 608.50L118.50 608.50L118.50 614.50L152.10 614.50L152.10 623.00L164.20 623.00" fill="none" stroke="#b6415f" stroke-width="1.35" stroke-linejoin="round"/>
<path d="M69.60 575.95V578.65M79.20 588.95V591.65M109.70 607.15V609.85M125.20 613.15V615.85M164.20 621.65V624.35" fill="none" stroke="#b6415f" stroke-width="1.25"/>
<rect x="114.9" y="555.2" width="131" height="22.6" fill="#fff"/>
<text x="246.9" y="562.6" font-size="7.45" text-anchor="end" fill="#365a82" stroke="#365a82"  style="">30 deaths, at 3 years: 0.38 (0.18-0.58)</text>
<text x="246.9" y="574.2" font-size="7.45" text-anchor="end" fill="#b02a4b" stroke="#b02a4b"  style="">17 deaths, at 3 years: 0.16 (0.05-0.32)</text>
<line x1="188.5" y1="497.8" x2="202.8" y2="497.8" stroke="#b0486a" stroke-width="1.4"/>
<text x="205.9" y="500.3" font-size="7.7" text-anchor="start" fill="#333333" stroke="#333333"  style="">Flu/Thio/Bu n = 100</text>
<line x1="288" y1="497.8" x2="301.8" y2="497.8" stroke="#4d6a8c" stroke-width="1.4"/>
<text x="304.8" y="500.3" font-size="7.4" text-anchor="start" fill="#333333" stroke="#333333"  style="">Flu/Thio/Treo n = 91</text>
<line x1="258.6" y1="573.1" x2="272.8" y2="573.1" stroke="#b0486a" stroke-width="1.4"/>
<text x="275.9" y="575.4" font-size="7.57" text-anchor="start" fill="#333333" stroke="#333333"  style="">Flu/Thio/Bu n = 41</text>
<line x1="258.6" y1="584.5" x2="272.8" y2="584.5" stroke="#4d6a8c" stroke-width="1.4"/>
<text x="275.9" y="586.8" font-size="7.37" text-anchor="start" fill="#333333" stroke="#333333"  style="">Flu/Thio/Treo n = 37</text>
</svg></body></html>
